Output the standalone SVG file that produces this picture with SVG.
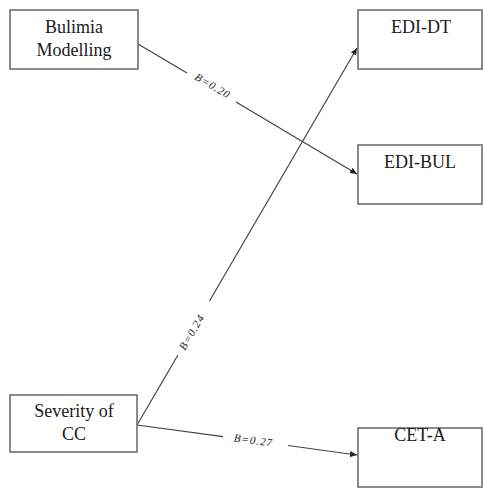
<svg xmlns="http://www.w3.org/2000/svg" width="483" height="489" viewBox="0 0 483 489">
<defs>
<style>
.box{fill:#fff;stroke:#666;stroke-width:1.5}
.t{font-family:'Liberation Serif','Times New Roman',serif;font-size:18px;fill:#1a1a1a;text-anchor:middle}
.lbl{font-family:'Liberation Serif','Times New Roman',serif;font-size:11px;font-style:italic;letter-spacing:1px;fill:#222;text-anchor:middle}
.ln{stroke:#444;stroke-width:1.2;fill:none}
</style>
<marker id="ah" markerWidth="8" markerHeight="8" refX="7" refY="4" orient="auto" markerUnits="userSpaceOnUse">
<path d="M0,1 L7,4 L0,7 Z" fill="#222"/>
</marker>
</defs>
<rect width="483" height="489" fill="#fff"/>
<g id="connectors">
<line class="ln" x1="138" y1="44" x2="187" y2="73"/>
<line class="ln" x1="236" y1="102" x2="357" y2="174" marker-end="url(#ah)"/>
<text class="lbl" transform="translate(211,89) rotate(30.6)">B=0.20</text>
<line class="ln" x1="137" y1="425" x2="178" y2="355"/>
<line class="ln" x1="209.5" y1="301" x2="357" y2="48" marker-end="url(#ah)"/>
<text class="lbl" transform="translate(195,334) rotate(-59.7)">B=0.24</text>
<line class="ln" x1="137" y1="425" x2="223" y2="436.7"/>
<line class="ln" x1="288" y1="445.5" x2="357" y2="455" marker-end="url(#ah)"/>
<text class="lbl" transform="translate(253,444) rotate(7.7)">B=0.27</text>
</g>
<g id="bulimia">
<rect class="box" x="10" y="10" width="128" height="59"/>
<text class="t" x="74" y="33">Bulimia</text>
<text class="t" x="74" y="56">Modelling</text>
</g>
<g id="edi-dt">
<rect class="box" x="358" y="10" width="124" height="59"/>
<text class="t" x="421" y="33">EDI-DT</text>
</g>
<g id="edi-bul">
<rect class="box" x="358" y="145" width="124" height="59"/>
<text class="t" x="420" y="168">EDI-BUL</text>
</g>
<g id="severity">
<rect class="box" x="10" y="395" width="127" height="57"/>
<text class="t" x="74" y="417">Severity of</text>
<text class="t" x="74" y="440">CC</text>
</g>
<g id="cet-a">
<rect class="box" x="358" y="428" width="124" height="59"/>
<text class="t" x="420" y="441">CET-A</text>
</g>
</svg>
